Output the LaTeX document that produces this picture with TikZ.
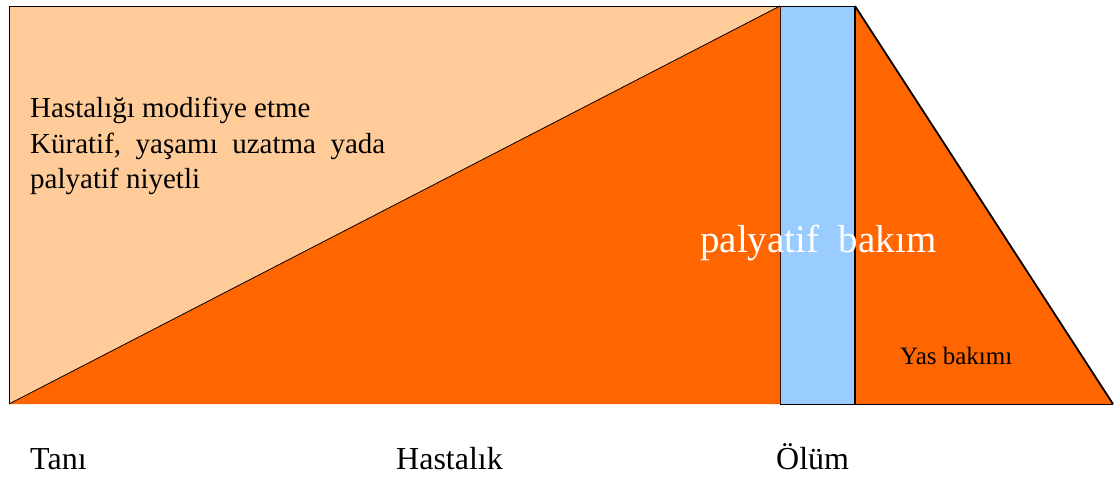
\documentclass[tikz,border=0pt]{standalone}
\usepackage{fontspec}
\setmainfont{Liberation Serif}
\definecolor{peach}{HTML}{FFCC99}
\definecolor{orng}{HTML}{FF6600}
\definecolor{skyb}{HTML}{99CCFF}
\tikzset{
  lbl/.style={inner sep=0pt, anchor=base west, text=black},
  big/.style={lbl, font=\fontsize{29}{36}\selectfont},
  axis/.style={lbl, font=\fontsize{32}{36}\selectfont},
}
\begin{document}
\begin{tikzpicture}[x=1pt,y=-1pt]
\useasboundingbox (0,0) rectangle (1115,477);
% main peach rectangle
\fill[peach] (9,6) rectangle (780,404);
% orange triangle
\fill[orng] (9,404) -- (780,6) -- (780,404) -- cycle;
\draw[line width=0.8pt] (9,404) -- (780,6);
% blue bar
\fill[skyb] (780,6) rectangle (855,404);
% right orange triangle
\fill[orng] (855,6) -- (1113,404) -- (855,404) -- cycle;
% outlines
\draw[line width=1pt] (9,404) -- (9,6) -- (855,6);
\draw[line width=0.8pt, black!80!orng] (780,6) -- (780,404);
\draw[line width=1.6pt] (855,6) -- (855,404);
\draw[line width=1.8pt] (855,6) -- (1113,404);
\draw[line width=1pt] (780,404) -- (1113,404);
% texts
\node[big] (t1) at (30,117) {Hastalığı modifiye etme};
\node[big] (t2) at (30,153) {Küratif,\ \ yaşamı\ \ uzatma\ \ yada};
\node[big] (t3) at (30,188) {palyatif niyetli};
\node[lbl, text=white, font=\fontsize{39}{44}\selectfont] (pb) at (700,252) {palyatif\ \ bakım};
\node[lbl, font=\fontsize{25}{30}\selectfont] (yb) at (900,364) {Yas bakımı};
\node[axis] (tani) at (30,469) {Tanı};
\node[axis] (hast) at (396,469) {Hastalık};
\node[axis] (olum) at (776,469) {Ölüm};
\end{tikzpicture}
\end{document}
